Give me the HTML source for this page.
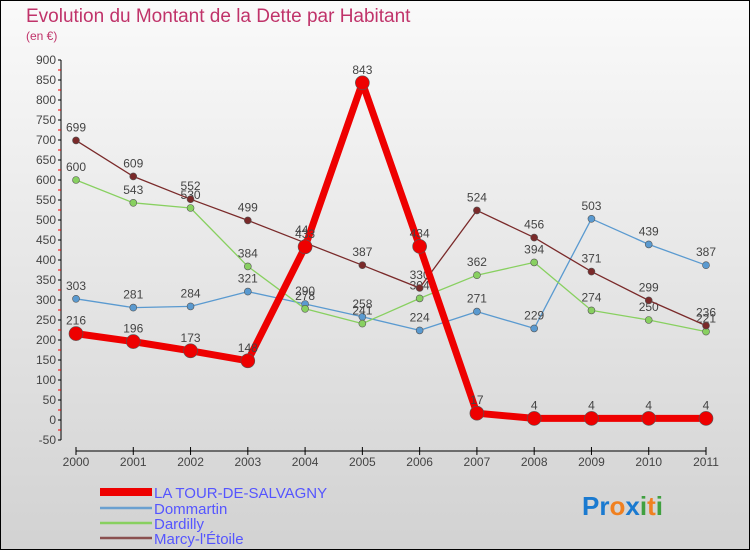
<!DOCTYPE html>
<html><head><meta charset="utf-8"><style>
body{margin:0;width:750px;height:550px;overflow:hidden;font-family:"Liberation Sans",sans-serif}
</style></head><body>
<svg id="chart" width="750" height="550" xmlns="http://www.w3.org/2000/svg">
<defs><linearGradient id="bg" x1="0" y1="0" x2="0" y2="1"><stop offset="0" stop-color="#fafafa"/><stop offset="1" stop-color="#d2d2d2"/></linearGradient></defs>
<rect x="0.5" y="0.5" width="749" height="549" fill="url(#bg)" stroke="#000"/>
<text x="26" y="22" font-size="19" fill="#c0336a">Evolution du Montant de la Dette par Habitant</text>
<text x="26" y="40" font-size="12" fill="#c0336a">(en €)</text>
<g id="axes"></g><g id="series"></g>
<g>
<rect x="100" y="488" width="52" height="8" fill="#e00"/>
<text x="154" y="498" font-size="15" fill="#5555ff">LA TOUR-DE-SALVAGNY</text>
<line x1="100" y1="508" x2="152" y2="508" stroke="#6aa0d0" stroke-width="2.5"/>
<text x="154" y="514" font-size="15" fill="#5555ff">Dommartin</text>
<line x1="100" y1="523" x2="152" y2="523" stroke="#88d060" stroke-width="2.5"/>
<text x="154" y="529" font-size="15" fill="#5555ff">Dardilly</text>
<line x1="100" y1="538" x2="152" y2="538" stroke="#8a5050" stroke-width="2.5"/>
<text x="154" y="544" font-size="15" fill="#5555ff">Marcy-l'Étoile</text>
</g>
<text x="582" y="515" font-size="26" font-weight="bold"><tspan fill="#1a7ad0">Pr</tspan><tspan fill="#f08020">o</tspan><tspan fill="#1a7ad0">x</tspan><tspan fill="#40a040">i</tspan><tspan fill="#f08020">t</tspan><tspan fill="#40a040">i</tspan></text>
</svg>
<script>
const years=["2000","2001","2002","2003","2004","2005","2006","2007","2008","2009","2010","2011"];
const yTicks=[-50,0,50,100,150,200,250,300,350,400,450,500,550,600,650,700,750,800,850,900];
const tourValues=[216,196,173,148,433,843,434,17,4,4,4,4];
const dommartinValues=[303,281,284,321,290,258,224,271,229,503,439,387];
const dardillyValues=[600,543,530,384,278,241,304,362,394,274,250,221];
const marcyValues=[699,609,552,499,443,387,330,524,456,371,299,236];
const NS="http://www.w3.org/2000/svg";
const X=i=>76+i*(630/11);
const Y=v=>420-v*0.4;
function mk(tag,attrs,parent){const e=document.createElementNS(NS,tag);for(const k in attrs)e.setAttribute(k,attrs[k]);parent.appendChild(e);return e;}
const ax=document.getElementById('axes');
let a=mk('line',{x1:61,y1:Y(900),x2:61,y2:Y(-50),stroke:'#000'},ax);


yTicks.forEach(v=>{
 let t=mk('line',{x1:58,x2:61,y1:Y(v),y2:Y(v),stroke:'#000'},ax);
 
 
 let m=mk('line',{x1:58,x2:61,y1:Y(v+25),y2:Y(v+25),stroke:'#e00'},ax);
 if(v===900)m.remove();
 let l=mk('text',{x:56,y:Y(v)+4,'text-anchor':'end','font-size':12,fill:'#444'},ax);
 l.textContent=v;
 
 
});
a=mk('line',{x1:X(0),y1:451,x2:X(11),y2:451,stroke:'#000'},ax);


years.forEach((yr,i)=>{
 let t=mk('line',{x1:X(i),x2:X(i),y1:447,y2:455,stroke:'#000'},ax);
 
 
 let l=mk('text',{x:X(i),y:466,'text-anchor':'middle','font-size':12,fill:'#444'},ax);
 l.textContent=yr;
 
 
});
const sg=document.getElementById('series');
function series(vals,color,w,r,name){
 const g=mk('g',{},sg);
 
 
 const p=mk('polyline',{points:vals.map((v,i)=>X(i)+','+Y(v)).join(' '),fill:'none',stroke:color,'stroke-width':w,'stroke-linejoin':'round'},g);
 
 
 vals.forEach((v,i)=>{
  const c=mk('circle',{cx:X(i),cy:Y(v),r:r,fill:color,stroke:'#555','stroke-width':0.6},g);
  
  
  const t=mk('text',{x:X(i),y:Y(v)-9,'text-anchor':'middle','font-size':12,fill:'#444'},g);
  t.textContent=v;
  
  
 });
}
series(dommartinValues,'#5a9ad0',1.3,3.5,'dommartin-series');
series(dardillyValues,'#88d060',1.3,3.5,'dardilly-series');
series(marcyValues,'#7a2a2a',1.3,3.5,'marcy-series');
series(tourValues,'#ee0000',7,7,'tour-series');
</script>
</body></html>
